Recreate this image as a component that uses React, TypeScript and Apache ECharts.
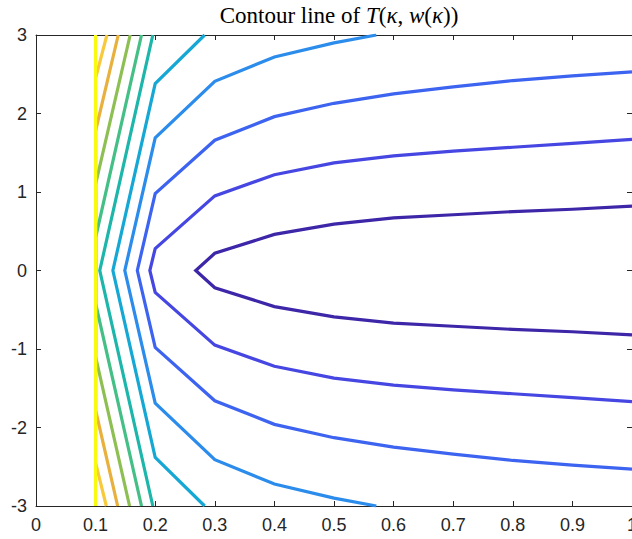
import React, { useEffect, useRef } from "react";
import * as echarts from "echarts";

// Axis tick values
const xTicks = [0, 0.1, 0.2, 0.3, 0.4, 0.5, 0.6, 0.7, 0.8, 0.9, 1];
const yTicks = [-3, -2, -1, 0, 1, 2, 3];

// Contour lines (kappa, w), highest level last
const yellowLine = [[0.1, -3], [0.1, 3]];
const goldLine = [[0.119, 3], [0.1, 2.45], [0.1, -2.45], [0.118, -3]];
const orangeLine = [[0.138, 3], [0.1, 1.78], [0.1, -1.78], [0.137, -3]];
const yellowGreenLine = [[0.158, 3], [0.1, 1.1], [0.1, -1.1], [0.157, -3]];
const greenLine = [[0.177, 3], [0.1, 0.42], [0.1, -0.42], [0.177, -3]];
const tealLine = [[0.196, 3], [0.107, 0], [0.196, -3]];
const cyanLine = [[0.283, 3], [0.2, 2.38], [0.129, 0], [0.2, -2.38], [0.283, -3]];
const lightBlueLine = [
  [0.571, 3], [0.5, 2.9], [0.4, 2.72], [0.3, 2.41], [0.2, 1.69], [0.149, 0],
  [0.2, -1.69], [0.3, -2.41], [0.4, -2.72], [0.5, -2.9], [0.571, -3],
];
const blueLine = [
  [1, 2.53], [0.9, 2.48], [0.8, 2.42], [0.7, 2.34], [0.6, 2.25], [0.5, 2.13],
  [0.4, 1.96], [0.3, 1.66], [0.2, 0.98], [0.17, 0], [0.2, -0.98], [0.3, -1.66],
  [0.4, -1.96], [0.5, -2.13], [0.6, -2.25], [0.7, -2.34], [0.8, -2.42],
  [0.9, -2.48], [1, -2.53],
];
const violetLine = [
  [1, 1.67], [0.9, 1.62], [0.8, 1.57], [0.7, 1.52], [0.6, 1.46], [0.5, 1.37],
  [0.4, 1.22], [0.3, 0.95], [0.2, 0.28], [0.191, 0], [0.2, -0.28], [0.3, -0.95],
  [0.4, -1.22], [0.5, -1.37], [0.6, -1.46], [0.7, -1.52], [0.8, -1.57],
  [0.9, -1.62], [1, -1.67],
];
const darkLine = [
  [1, 0.82], [0.9, 0.78], [0.8, 0.75], [0.7, 0.71], [0.6, 0.67], [0.5, 0.59],
  [0.4, 0.46], [0.3, 0.22], [0.268, 0], [0.3, -0.22], [0.4, -0.46], [0.5, -0.59],
  [0.6, -0.67], [0.7, -0.71], [0.8, -0.75], [0.9, -0.78], [1, -0.82],
];

const contourLines = [
  darkLine, violetLine, blueLine, lightBlueLine, cyanLine, tealLine,
  greenLine, yellowGreenLine, orangeLine, goldLine, yellowLine,
];
const lineColors = [
  "#3E26A8", "#4646E2", "#3D64F0", "#2B8CEC", "#16A8D5", "#1CB6AA",
  "#44BF86", "#8DBF53", "#E8B03C", "#F8C93A", "#F9FB0E",
];

const axisColor = "#262626";
const tickFont = { fontFamily: "Liberation Sans, Arial, sans-serif", fontSize: 18, color: axisColor };
const serif = "Liberation Serif, Times New Roman, serif";

export default function App() {
  const ref = useRef<HTMLDivElement>(null);
  useEffect(() => {
    if (!ref.current) return;
    const chart = echarts.init(ref.current, null, { renderer: "svg" });
    const fmt = (v: number) => String(Number(v.toFixed(1)));
    chart.setOption({
      animation: false,
      backgroundColor: "#ffffff",
      title: {
        text: "Contour line of {i|T}({i|κ}, {i|w}({i|κ}))",
        left: 334,
        textAlign: "center",
        top: -1,
        textStyle: {
          fontFamily: serif,
          fontWeight: "normal",
          fontSize: 23,
          color: "#000000",
          rich: {
            i: { fontFamily: serif, fontStyle: "italic", fontSize: 23, color: "#000000" },
          },
        },
      },
      grid: {
        left: 36, top: 35, right: 0, bottom: 33,
        containLabel: false, outerBoundsMode: "none",
      },
      xAxis: [
        {
          type: "value",
          position: "bottom",
          min: xTicks[0],
          max: xTicks[xTicks.length - 1],
          interval: 0.1,
          axisLine: { show: true, onZero: false, lineStyle: { color: axisColor, width: 1 } },
          axisTick: { show: true, inside: true, length: 5, lineStyle: { color: axisColor } },
          axisLabel: { ...tickFont, margin: 10, formatter: fmt, showMaxLabel: true, showMinLabel: true, hideOverlap: false },
          splitLine: { show: false },
        },
        {
          type: "value",
          position: "top",
          min: xTicks[0],
          max: xTicks[xTicks.length - 1],
          interval: 0.1,
          axisLine: { show: true, onZero: false, lineStyle: { color: axisColor, width: 1 } },
          axisTick: { show: true, inside: true, length: 5, lineStyle: { color: axisColor } },
          axisLabel: { show: false },
          splitLine: { show: false },
        },
      ],
      yAxis: [
        {
          type: "value",
          position: "left",
          min: yTicks[0],
          max: yTicks[yTicks.length - 1],
          interval: 1,
          axisLine: { show: true, onZero: false, lineStyle: { color: axisColor, width: 1 } },
          axisTick: { show: true, inside: true, length: 5, lineStyle: { color: axisColor } },
          axisLabel: { ...tickFont, margin: 9, formatter: (v: number) => String(v) },
          splitLine: { show: false },
        },
        {
          type: "value",
          position: "right",
          min: yTicks[0],
          max: yTicks[yTicks.length - 1],
          interval: 1,
          axisLine: { show: true, onZero: false, lineStyle: { color: axisColor, width: 1 } },
          axisTick: { show: true, inside: true, length: 5, lineStyle: { color: axisColor } },
          axisLabel: { show: false },
          splitLine: { show: false },
        },
      ],
      series: contourLines.map((pts, i) => ({
        type: "line",
        xAxisIndex: 0,
        yAxisIndex: 0,
        data: pts,
        showSymbol: false,
        symbol: "none",
        clip: true,
        z: 2 + i,
        lineStyle: { color: lineColors[i], width: 3.2, join: "miter", cap: "butt" },
      })),
    });
    return () => chart.dispose();
  }, []);
  return (
    <div
      ref={ref}
      style={{ position: "absolute", left: 0, top: 0, width: 632, height: 539 }}
    />
  );
}
